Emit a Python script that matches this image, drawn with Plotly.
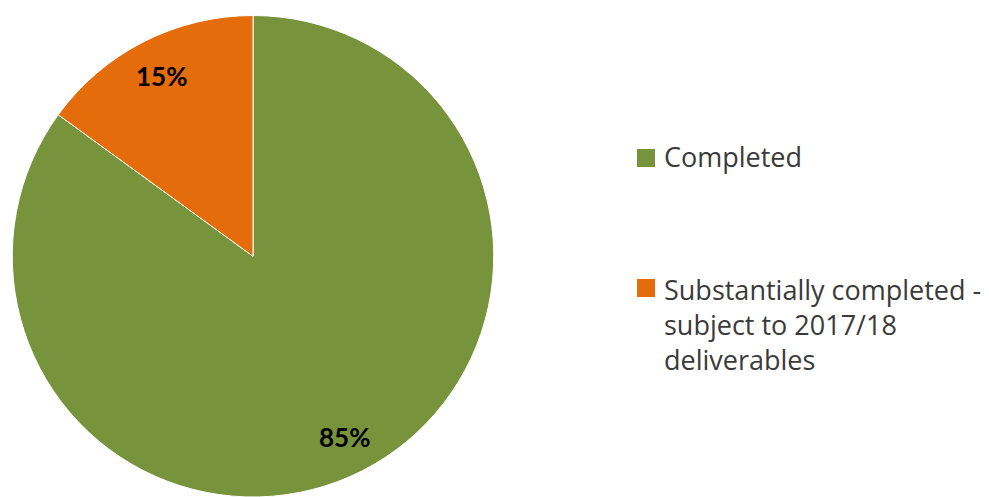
import math
import plotly.graph_objects as go

labels = ["Completed", "Substantially completed -<br>subject to 2017/18<br>deliverables"]
values = [85, 15]
colors = ["#77933C", "#E46C0A"]

W, H = 989, 497
LEGEND_FONT = "Open Sans"
LABEL_FONT = "Lato"

# pie placement in pixels (centre and radius)
cx, cy, R = 253, 256.5, 241

fig = go.Figure(go.Pie(
    labels=labels,
    values=values,
    sort=False,
    direction="clockwise",
    rotation=0,
    textinfo="none",
    hoverinfo="label+percent",
    marker=dict(colors=colors, line=dict(color="white", width=1)),
    domain=dict(x=[(cx - R) / W, (cx + R) / W], y=[0, (H - cy + R) / H]),
    showlegend=False,
))

# percentage labels near the rim, on each slice's bisector
total = sum(values)
start = 0.0
for v in values:
    mid = (start + v / 2) / total * 2 * math.pi
    start += v
    px = cx + 0.84 * R * math.sin(mid)
    py = cy - 0.84 * R * math.cos(mid)
    fig.add_annotation(
        x=px / W, y=1 - py / H, xref="paper", yref="paper",
        xanchor="center", yanchor="middle",
        text=f"<b>{round(v / total * 100)}%</b>", showarrow=False,
        font=dict(family=LABEL_FONT, size=26, color="black"),
    )

# hand-drawn legend with large gaps, like the original
legend_y = [157, 324]
square_top = [149, 279]
for lab, col, ly, st in zip(labels, colors, legend_y, square_top):
    fig.add_shape(
        type="rect", xref="paper", yref="paper",
        x0=637 / W, x1=655 / W, y0=1 - (st + 18) / H, y1=1 - st / H,
        fillcolor=col, line=dict(width=0),
    )
    fig.add_annotation(
        x=662 / W, y=1 - ly / H, xref="paper", yref="paper",
        xanchor="left", yanchor="middle", align="left",
        text=lab, showarrow=False,
        font=dict(family=LEGEND_FONT, size=27, color="#3a3a3a"),
    )

fig.update_layout(
    width=W, height=H,
    margin=dict(l=0, r=0, t=0, b=0),
    paper_bgcolor="white",
    plot_bgcolor="white",
)

fig.write_html(
    "out.html",
    config={"displayModeBar": False},
    post_script="document.body.style.margin='0';",
)
